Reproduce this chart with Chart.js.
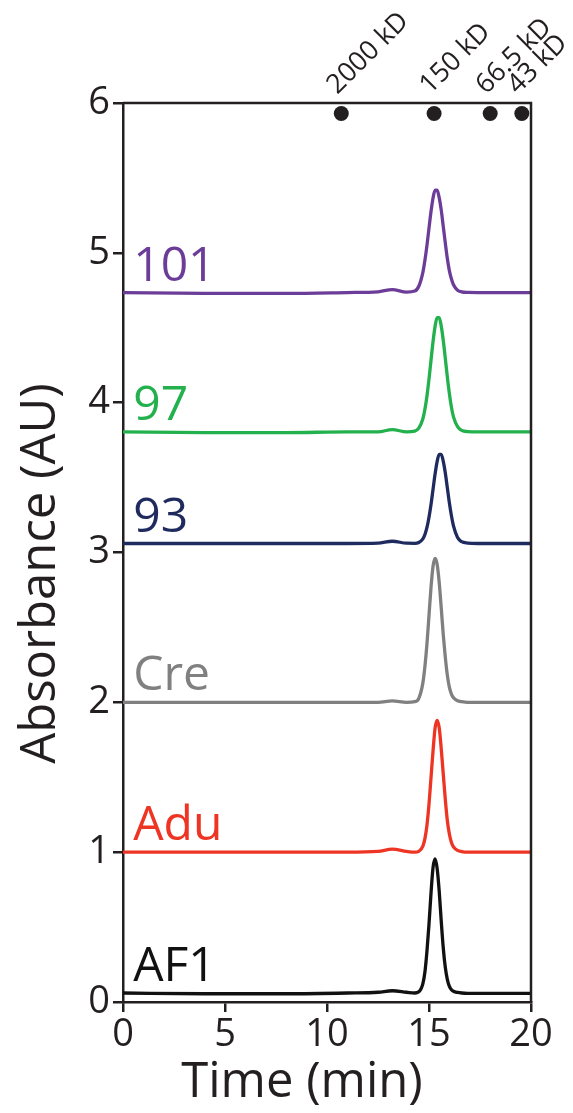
<!DOCTYPE html>
<html>
<head>
<meta charset="utf-8">
<script src="https://cdn.jsdelivr.net/npm/chart.js@4"></script>
<style>
  html, body { margin: 0; padding: 0; background: #fff; }
  #wrap { width: 573px; height: 1113px; }
</style>
</head>
<body>
<div id="wrap"><canvas id="canvas_chart"></canvas></div>
<script>
// elution time (min)
const time = [0, 4, 8, 11, 12.5, 13.2, 13.9, 14.3, 14.5, 14.7, 14.8, 14.9, 15.0, 15.1, 15.2, 15.3,
              15.4, 15.5, 15.6, 15.7, 15.8, 15.9, 16.0, 16.1, 16.2, 16.4, 16.6, 16.9, 17.4, 18, 20];

// absorbance traces (stacked, offset as in the figure)
const af1 = [0.06, 0.055, 0.055, 0.06, 0.065, 0.075, 0.065, 0.06, 0.068, 0.123, 0.20, 0.34, 0.52, 0.73, 0.90, 0.955,
             0.89, 0.74, 0.54, 0.36, 0.23, 0.15, 0.105, 0.082, 0.072, 0.064, 0.06, 0.058, 0.058, 0.058, 0.058];
const adu = [1.0, 1.0, 1.0, 1.0, 1.005, 1.02, 1.005, 1.0, 1.005, 1.04, 1.09, 1.18, 1.32, 1.50, 1.68, 1.83,
             1.88, 1.83, 1.69, 1.52, 1.35, 1.21, 1.12, 1.065, 1.035, 1.012, 1.004, 1.0, 1.0, 1.0, 1.0];
const cre = [2.0, 2.0, 2.0, 2.0, 2.0, 2.01, 2.0, 2.004, 2.027, 2.13, 2.24, 2.39, 2.58, 2.77, 2.91, 2.96,
             2.92, 2.80, 2.63, 2.45, 2.30, 2.18, 2.10, 2.055, 2.03, 2.01, 2.004, 2.0, 2.0, 2.0, 2.0];
const s93 = [3.06, 3.06, 3.06, 3.06, 3.062, 3.075, 3.062, 3.061, 3.067, 3.091, 3.12, 3.167, 3.235, 3.322, 3.424, 3.525,
             3.608, 3.655, 3.655, 3.608, 3.53, 3.43, 3.33, 3.245, 3.178, 3.10, 3.072, 3.063, 3.06, 3.06, 3.06];
const s97 = [3.805, 3.8, 3.8, 3.805, 3.805, 3.82, 3.805, 3.81, 3.83, 3.893, 3.956, 4.045, 4.157, 4.285, 4.41, 4.511,
             4.568, 4.568, 4.511, 4.415, 4.295, 4.17, 4.06, 3.97, 3.905, 3.84, 3.815, 3.807, 3.805, 3.805, 3.805];
const s101 = [4.735, 4.73, 4.73, 4.735, 4.74, 4.755, 4.738, 4.745, 4.777, 4.87, 4.95, 5.05, 5.165, 5.277, 5.368, 5.418,
              5.418, 5.368, 5.285, 5.175, 5.065, 4.96, 4.88, 4.825, 4.787, 4.751, 4.74, 4.736, 4.735, 4.735, 4.735];

const seriesNames = ['AF1', 'Adu', 'Cre', '93', '97', '101'];
const seriesValues = [af1, adu, cre, s93, s97, s101];
const seriesColors = ['#111111', '#ee3524', '#808080', '#1f2b5e', '#22b14c', '#6c3d98'];

// molecular weight standards
const markerTimes = [10.7, 15.25, 18.0, 19.55];
const markerLabels = ['2000 kD', '150 kD', '66.5 kD', '43 kD'];

const ink = '#231f20';
const fontFam = "'Open Sans', sans-serif";

const datasets = seriesValues.map((vals, i) => ({
    label: seriesNames[i],
    data: time.map((t, k) => ({ x: t, y: vals[k] })),
    borderColor: seriesColors[i],
    borderWidth: 3.3,
    pointRadius: 0,
    cubicInterpolationMode: 'monotone',
    fill: false
}));

datasets.push({
    label: 'standards',
    data: markerTimes.map(t => ({ x: t, y: 5.93 })),
    showLine: false,
    pointRadius: 7.5,
    pointBackgroundColor: ink,
    pointBorderWidth: 0,
    clip: false
});

const decor = {
    id: 'decor',
    afterDraw(chart) {
        const { ctx, chartArea: a, scales: { x, y } } = chart;
        ctx.save();
        // top and right frame
        ctx.strokeStyle = ink;
        ctx.lineWidth = 2.5;
        ctx.beginPath();
        ctx.moveTo(a.left, a.top);
        ctx.lineTo(a.right, a.top);
        ctx.lineTo(a.right, a.bottom);
        ctx.stroke();

        // series names
        ctx.font = '48px ' + fontFam;
        ctx.textAlign = 'left';
        ctx.textBaseline = 'alphabetic';
        seriesNames.forEach((name, i) => {
            ctx.fillStyle = seriesColors[i];
            ctx.fillText(name, x.getPixelForValue(0.5), y.getPixelForValue(seriesValues[i][0] + 0.08));
        });

        // standard labels, rotated
        ctx.fillStyle = ink;
        ctx.font = '27px ' + fontFam;
        markerTimes.forEach((t, i) => {
            ctx.save();
            ctx.translate(x.getPixelForValue(t) - 4, a.top - 8);
            ctx.rotate(-Math.PI / 4);
            ctx.fillText(markerLabels[i], 0, 0);
            ctx.restore();
        });

        // axis titles
        ctx.font = '49px ' + fontFam;
        ctx.textAlign = 'center';
        ctx.fillText('Time (min)', (a.left + a.right) / 2 - 25, chart.height - 16);
        ctx.save();
        ctx.translate(55, (a.top + a.bottom) / 2 + 21);
        ctx.rotate(-Math.PI / 2);
        ctx.fillText('Absorbance (AU)', 0, 0);
        ctx.restore();
        ctx.restore();
    }
};

new Chart(document.getElementById('canvas_chart'), {
    type: 'line',
    data: { datasets },
    options: {
        responsive: true,
        maintainAspectRatio: false,
        animation: false,
        layout: { padding: { top: 103, right: 42, left: 0, bottom: 0 } },
        plugins: { legend: { display: false }, tooltip: { enabled: false } },
        scales: {
            x: {
                type: 'linear',
                min: 0,
                max: 20,
                afterFit: s => { s.height = 111; },
                ticks: { stepSize: 5, color: ink, font: { family: fontFam, size: 38 }, padding: 0, maxRotation: 0 },
                grid: { drawOnChartArea: false, tickLength: 10, color: ink, lineWidth: 2.5 },
                border: { color: ink, width: 2.5 }
            },
            y: {
                min: 0,
                max: 6,
                afterFit: s => { s.width = 123; },
                ticks: { stepSize: 1, color: ink, font: { family: fontFam, size: 38 }, padding: 3 },
                grid: { drawOnChartArea: false, tickLength: 10, color: ink, lineWidth: 2.5 },
                border: { color: ink, width: 2.5 }
            }
        }
    },
    plugins: [decor]
});
</script>
</body>
</html>
